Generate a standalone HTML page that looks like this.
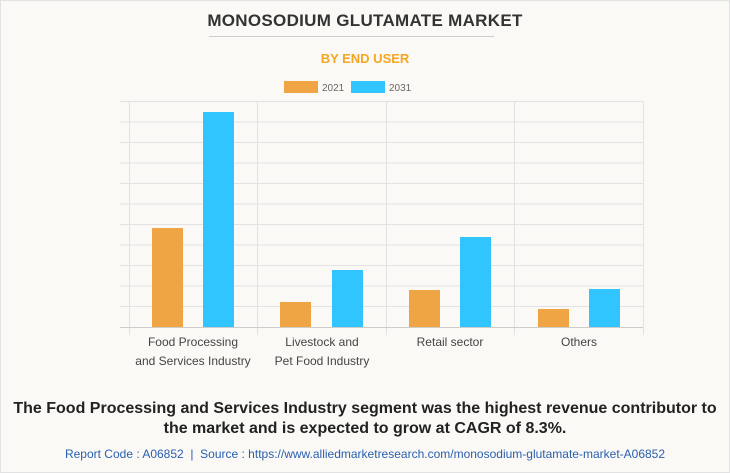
<!DOCTYPE html>
<html><head><style>
body{margin:0;}
.w{position:relative;width:728px;height:471px;background:#faf9f5;border:1px solid #e2e2e2;font-family:"Liberation Sans",Arial,sans-serif;overflow:hidden}
.t{position:absolute;left:-1px;width:730px;text-align:center}
</style></head><body><div class="w">
<div class="t" style="top:10px;font-size:17px;font-weight:bold;color:#333;letter-spacing:0.3px">MONOSODIUM GLUTAMATE MARKET</div>
<div style="position:absolute;left:208px;top:35px;width:285px;height:1px;background:#ccc"></div>
<div class="t" style="top:50px;font-size:13px;font-weight:bold;color:#f5a623">BY END USER</div>
<svg style="position:absolute;left:-1px;top:-1px" width="730" height="473">
<rect x="284" y="81" width="34" height="12" fill="#f0a545"/>
<text x="322" y="91" font-size="10" fill="#666" font-family="Liberation Sans">2021</text>
<rect x="351" y="81" width="34" height="12" fill="#30c5ff"/>
<text x="389" y="91" font-size="10" fill="#666" font-family="Liberation Sans">2031</text>
<g stroke="#e2e2e2" stroke-width="1">
<line x1="120" x2="643" y1="101.5" y2="101.5"/><line x1="120" x2="643" y1="122" y2="122"/>
<line x1="120" x2="643" y1="142.5" y2="142.5"/><line x1="120" x2="643" y1="163" y2="163"/>
<line x1="120" x2="643" y1="183.5" y2="183.5"/><line x1="120" x2="643" y1="204" y2="204"/>
<line x1="120" x2="643" y1="224.5" y2="224.5"/><line x1="120" x2="643" y1="245" y2="245"/>
<line x1="120" x2="643" y1="265.5" y2="265.5"/><line x1="120" x2="643" y1="286" y2="286"/>
<line x1="120" x2="643" y1="306.5" y2="306.5"/>
<line x1="129.5" x2="129.5" y1="101" y2="335"/><line x1="257.5" x2="257.5" y1="101" y2="335"/>
<line x1="386.5" x2="386.5" y1="101" y2="335"/><line x1="514.5" x2="514.5" y1="101" y2="335"/>
<line x1="643.5" x2="643.5" y1="101" y2="335"/>
</g>
<line x1="120" x2="643" y1="327.5" y2="327.5" stroke="#ccc"/>
<g fill="#f0a545">
<rect x="152" y="228" width="31" height="99"/><rect x="280" y="302" width="31" height="25"/>
<rect x="409" y="290" width="31" height="37"/><rect x="538" y="309" width="31" height="18"/>
</g>
<g fill="#30c5ff">
<rect x="203" y="112" width="31" height="215"/><rect x="332" y="270" width="31" height="57"/>
<rect x="460" y="237" width="31" height="90"/><rect x="589" y="289" width="31" height="38"/>
</g>
<g font-size="12" fill="#444" font-family="Liberation Sans" text-anchor="middle">
<text x="193" y="346">Food Processing</text><text x="193" y="365">and Services Industry</text>
<text x="322" y="346">Livestock and</text><text x="322" y="365">Pet Food Industry</text>
<text x="450" y="346">Retail sector</text><text x="579" y="346">Others</text>
</g>
</svg>
<div class="t" style="top:398px;font-size:16px;font-weight:bold;color:#222;line-height:20px">The Food Processing and Services Industry segment was the highest revenue contributor to<br>the market and is expected to grow at CAGR of 8.3%.</div>
<div class="t" style="top:446px;font-size:12px;color:#2a5fb0">Report Code : A06852 &nbsp;| &nbsp;Source : https://www.alliedmarketresearch.com/monosodium-glutamate-market-A06852</div>
</div></body></html>
